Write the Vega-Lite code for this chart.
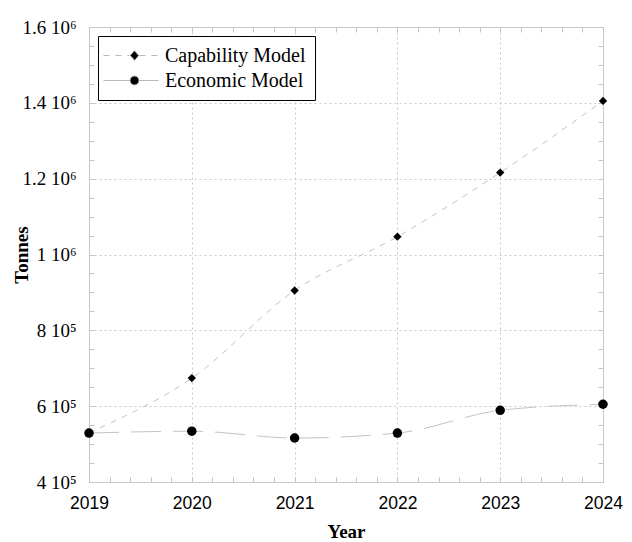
{
  "$schema": "https://vega.github.io/schema/vega-lite/v6.json",
  "autosize": {"type": "none"},
  "width": 514,
  "height": 455,
  "padding": {"left": 89, "top": 27, "right": 29, "bottom": 60},
  "background": "white",
  "config": {"view": {"stroke": "#c8c8c8", "strokeWidth": 1}, "axis": {"gridDash": [2, 3]}},
  "data": {"values": [
    {"year": 2019, "model": "Capability Model", "tonnes": 530000},
    {"year": 2020, "model": "Capability Model", "tonnes": 674000},
    {"year": 2021, "model": "Capability Model", "tonnes": 905000},
    {"year": 2022, "model": "Capability Model", "tonnes": 1047000},
    {"year": 2023, "model": "Capability Model", "tonnes": 1216000},
    {"year": 2024, "model": "Capability Model", "tonnes": 1405000},
    {"year": 2019, "model": "Economic Model", "tonnes": 529000},
    {"year": 2020, "model": "Economic Model", "tonnes": 534000},
    {"year": 2021, "model": "Economic Model", "tonnes": 516000},
    {"year": 2022, "model": "Economic Model", "tonnes": 529000},
    {"year": 2023, "model": "Economic Model", "tonnes": 589000},
    {"year": 2024, "model": "Economic Model", "tonnes": 605000}
  ]},
  "layer": [
    {
      "mark": {"type": "line", "interpolate": "monotone", "color": "#c4c4c4", "strokeWidth": 1},
      "encoding": {
        "x": {
          "field": "year", "type": "quantitative",
          "scale": {"domain": [2019, 2024], "nice": false, "zero": false},
          "axis": {
            "orient": "bottom",
            "title": "Year",
            "values": [2019, 2019.2, 2019.4, 2019.6, 2019.8, 2020, 2020.2, 2020.4, 2020.6, 2020.8, 2021, 2021.2, 2021.4, 2021.6, 2021.8, 2022, 2022.2, 2022.4, 2022.6, 2022.8, 2023, 2023.2, 2023.4, 2023.6, 2023.8, 2024],
            "labelExpr": "abs(datum.value - round(datum.value)) < 0.01 ? format(datum.value, 'd') : ''",
            "labelFont": "Liberation Sans", "labelFontSize": 17.5, "labelColor": "black",
            "labelPadding": 17, "labelFlush": false, "labelOverlap": false,
            "domain": false,
            "ticks": true, "tickSize": -5, "tickColor": "#c4c4c4", "tickWidth": 1,
            "grid": true, "gridColor": "#c8c8c8",
            "gridOpacity": {"condition": {"test": "abs(datum.value - round(datum.value)) < 0.01", "value": 1}, "value": 0},
            "titleFont": "Liberation Serif", "titleFontWeight": "bold", "titleFontSize": 19, "titleColor": "black",
            "titlePadding": 11
          }
        },
        "y": {
          "field": "tonnes", "type": "quantitative",
          "scale": {"domain": [400000, 1600000], "nice": false, "zero": false},
          "axis": {
            "orient": "left",
            "title": "Tonnes",
            "values": [400000, 450000, 500000, 550000, 600000, 650000, 700000, 750000, 800000, 850000, 900000, 950000, 1000000, 1050000, 1100000, 1150000, 1200000, 1250000, 1300000, 1350000, 1400000, 1450000, 1500000, 1550000, 1600000],
            "labelExpr": "abs(datum.value % 200000) < 1 ? (datum.value >= 1000000 ? format(datum.value/1000000, '~g') + ' 10⁶' : format(datum.value/100000, '~g') + ' 10⁵') : ''",
            "labelFont": "Liberation Serif", "labelFontSize": 19, "labelColor": "black",
            "labelPadding": 18, "labelFlush": false, "labelOverlap": false,
            "domain": false,
            "ticks": true, "tickSize": -5, "tickColor": "#c4c4c4", "tickWidth": 1,
            "grid": true, "gridColor": "#c8c8c8",
            "gridOpacity": {"condition": {"test": "abs(datum.value % 200000) < 1", "value": 1}, "value": 0},
            "titleFont": "Liberation Serif", "titleFontWeight": "bold", "titleFontSize": 19, "titleColor": "black",
            "titleX": -68, "titleBaseline": "middle", "titleAngle": -90
          }
        },
        "strokeDash": {
          "field": "model", "type": "nominal",
          "scale": {"domain": ["Capability Model", "Economic Model"], "range": [[6, 6], [30, 12]]},
          "legend": {
            "title": null,
            "orient": "top-left",
            "offset": 9,
            "strokeColor": "black",
            "fillColor": "white",
            "padding": 9,
            "symbolSize": 400,
            "symbolType": {"expr": "datum.value === 'Capability Model' ? 'M-1.4,0H1.2M2.2,0H4.1M1.7,-0.48L2.12,0L1.7,0.48L1.28,0Z' : 'M-1.4,0H1.2M2.2,0H4.1M2.15,0A0.45,0.45 0 1,1 1.25,0A0.45,0.45 0 1,1 2.15,0Z'"},
            "symbolFillColor": "black",
            "symbolStrokeColor": "#b8b8b8",
            "symbolStrokeWidth": 1,
            "symbolOpacity": 1,
            "rowPadding": 4,
            "labelOffset": 37,
            "labelFont": "Liberation Serif",
            "labelFontSize": 20,
            "labelColor": "black",
            "labelLimit": 300,
            "encode": {
              "legend": {"strokeWidth": {"value": 2}}
            }
          }
        }
      }
    },
    {
      "transform": [{"filter": "datum.model === 'Capability Model'"}],
      "mark": {"type": "point", "filled": true, "color": "black", "opacity": 1, "shape": "diamond", "size": 70},
      "encoding": {
        "x": {
          "field": "year", "type": "quantitative",
          "axis": {
            "orient": "top", "title": null, "labels": false, "domain": false, "grid": false,
            "values": [2019, 2019.2, 2019.4, 2019.6, 2019.8, 2020, 2020.2, 2020.4, 2020.6, 2020.8, 2021, 2021.2, 2021.4, 2021.6, 2021.8, 2022, 2022.2, 2022.4, 2022.6, 2022.8, 2023, 2023.2, 2023.4, 2023.6, 2023.8, 2024],
            "ticks": true, "tickSize": -5, "tickColor": "#c4c4c4", "tickWidth": 1
          }
        },
        "y": {
          "field": "tonnes", "type": "quantitative",
          "axis": {
            "orient": "right", "title": null, "labels": false, "domain": false, "grid": false,
            "values": [400000, 450000, 500000, 550000, 600000, 650000, 700000, 750000, 800000, 850000, 900000, 950000, 1000000, 1050000, 1100000, 1150000, 1200000, 1250000, 1300000, 1350000, 1400000, 1450000, 1500000, 1550000, 1600000],
            "ticks": true, "tickSize": -5, "tickColor": "#c4c4c4", "tickWidth": 1
          }
        }
      }
    },
    {
      "transform": [{"filter": "datum.model === 'Economic Model'"}],
      "mark": {"type": "point", "filled": true, "color": "black", "opacity": 1, "shape": "circle", "size": 90},
      "encoding": {
        "x": {"field": "year", "type": "quantitative", "axis": null},
        "y": {"field": "tonnes", "type": "quantitative", "axis": null}
      }
    }
  ]
}
